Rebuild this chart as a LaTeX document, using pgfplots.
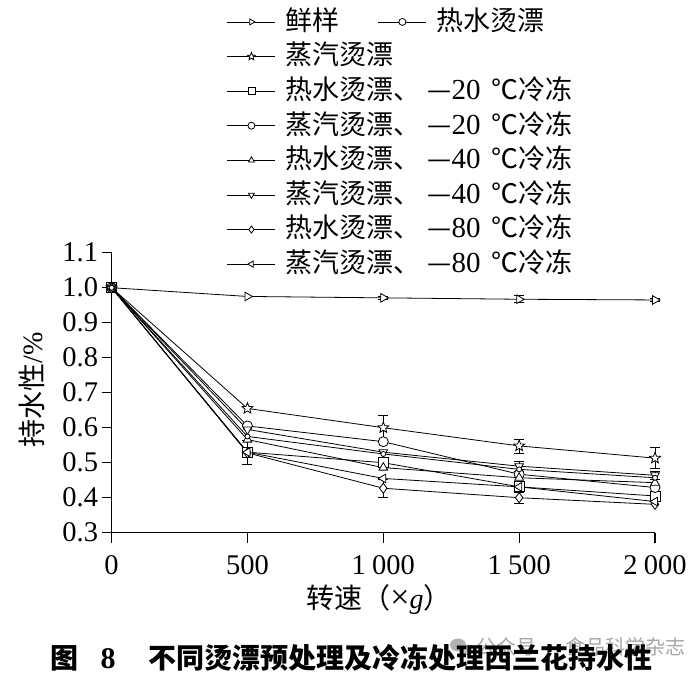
\documentclass[border=0pt]{standalone}
\usepackage{fontspec}
\setmainfont{Liberation Serif}
\newfontfamily\cjk{Noto Sans CJK SC}
\usepackage{pgfplots}
\pgfplotsset{compat=1.18}
\usetikzlibrary{plotmarks}

\pgfdeclareplotmark{ostar}{%
 \pgfpathmoveto{\pgfpointpolar{90}{1.15\pgfplotmarksize}}%
 \pgfpathlineto{\pgfpointpolar{126}{0.5\pgfplotmarksize}}%
 \pgfpathlineto{\pgfpointpolar{162}{1.15\pgfplotmarksize}}%
 \pgfpathlineto{\pgfpointpolar{198}{0.5\pgfplotmarksize}}%
 \pgfpathlineto{\pgfpointpolar{234}{1.15\pgfplotmarksize}}%
 \pgfpathlineto{\pgfpointpolar{270}{0.5\pgfplotmarksize}}%
 \pgfpathlineto{\pgfpointpolar{306}{1.15\pgfplotmarksize}}%
 \pgfpathlineto{\pgfpointpolar{342}{0.5\pgfplotmarksize}}%
 \pgfpathlineto{\pgfpointpolar{18}{1.15\pgfplotmarksize}}%
 \pgfpathlineto{\pgfpointpolar{54}{0.5\pgfplotmarksize}}%
 \pgfpathclose
 \pgfusepathqfillstroke}

\newcommand{\leg}[2]{{\cjk #1、}\hspace{0.25em}{\cjk —}{\fontsize{29}{29}\selectfont #2}\hspace{0.4em}{\cjk ℃冷冻}}

\pgfplotsset{
 base/.style={
  at={(111.6pt,141.3pt)}, anchor=south west,
  scale only axis, width=543.4pt, height=280pt,
  xmin=0, xmax=2000, ymin=0.3, ymax=1.1, clip=false,
 },
 leg/.style={
  legend style={anchor=north west, draw=none, fill=none, inner sep=0pt, outer sep=0pt,
   row sep=0pt, column sep=10pt, cells={anchor=west},
   font=\fontsize{27}{29}\selectfont,
   nodes={inner sep=0pt, text height=25.7pt, text depth=8.9pt}},
  legend image code/.code={\draw[mark repeat=2, mark phase=2, mark size=3.5pt]
     plot coordinates {(0pt,0pt) (24pt,0pt) (48pt,0pt)};},
 },
 ln/.style={black, line width=0.8pt, mark size=5pt},
 eb/.style={forget plot, black, only marks, mark=none, line width=0.8pt,
   error bars/.cd, y dir=both, y explicit,
   error bar style={line width=0.8pt, black},
   error mark options={rotate=90, mark size=5pt, line width=0.8pt, black}},
}

\begin{document}
\begin{tikzpicture}
\path[use as bounding box] (0,0) rectangle (700pt,674pt);

\begin{axis}[base, leg,
  legend style={at={(0.2124,1.886)}},
  axis lines=left, axis line style={-, line width=1.2pt},
  tick align=outside, major tick length=10pt,
  tick style={line width=1.2pt, black},
  xtick={0,500,1000,1500,2000},
  xticklabels={0,500,1\hspace{0.22em}000,1\hspace{0.22em}500,2\hspace{0.22em}000},
  ytick={0.3,0.4,0.5,0.6,0.7,0.8,0.9,1.0,1.1},
  yticklabel style={/pgf/number format/.cd, fixed, fixed zerofill, precision=1},
  /pgf/number format/assume math mode=true,
  ticklabel style={font=\fontsize{28.5}{28.5}\selectfont},
  xticklabel style={yshift=-9pt},
  xlabel={{\cjk 转速（}{\fontsize{34}{34}\selectfont ×}\textit{g}{\cjk ）}},
  ylabel={{\cjk 持水性}/\%},
  label style={font=\fontsize{28}{30}\selectfont},
  xlabel style={at={(axis description cs:0.492,-0.24)}, anchor=center},
  ylabel style={at={(axis description cs:-0.146,0.51)}, anchor=center, rotate=0},
]
% error bars (drawn first, behind marks)
\addplot[eb] coordinates {(1000,0.971) +- (0,0.004) (1500,0.967) +- (0,0.010) (2000,0.965) +- (0,0.004)};
\addplot[eb] coordinates {(1000,0.600) +- (0,0.035) (1500,0.548) +- (0,0.020) (2000,0.513) +- (0,0.030)};
\addplot[eb] coordinates {(500,0.530) +- (0,0.035)};
\addplot[eb] coordinates {(1500,0.490) +- (0,0.015) (2000,0.464) +- (0,0.012)};
\addplot[eb] coordinates {(1000,0.427) +- (0,0.025) (1500,0.400) +- (0,0.015)};

% 鲜样
\addplot[ln, mark=triangle*, mark options={fill=white, rotate=-90}] coordinates
 {(0,1.000) (500,0.975) (1000,0.971) (1500,0.967) (2000,0.965)};
\addlegendentry{\cjk 鲜样}
% 蒸汽烫漂
\addplot[ln, mark=ostar, mark options={fill=white}] coordinates
 {(0,1.000) (500,0.655) (1000,0.600) (1500,0.548) (2000,0.513)};
\addlegendentry{\cjk 蒸汽烫漂}
% 热水烫漂、-20
\addplot[ln, mark=square*, mark options={fill=white}] coordinates
 {(0,1.000) (500,0.530) (1000,0.500) (1500,0.431) (2000,0.405)};
\addlegendentry{\leg{热水烫漂}{20}}
% 蒸汽烫漂、-20
\addplot[ln, mark=*, mark options={fill=white}] coordinates
 {(0,1.000) (500,0.605) (1000,0.560) (1500,0.467) (2000,0.429)};
\addlegendentry{\leg{蒸汽烫漂}{20}}
% 热水烫漂、-40
\addplot[ln, mark=triangle*, mark options={fill=white}] coordinates
 {(0,1.000) (500,0.566) (1000,0.486) (1500,0.457) (2000,0.443)};
\addlegendentry{\leg{热水烫漂}{40}}
% 蒸汽烫漂、-40
\addplot[ln, mark=triangle*, mark options={fill=white, rotate=180}] coordinates
 {(0,1.000) (500,0.595) (1000,0.530) (1500,0.490) (2000,0.464)};
\addlegendentry{\leg{蒸汽烫漂}{40}}
% 热水烫漂、-80
\addplot[ln, mark=diamond*, mark options={fill=white}] coordinates
 {(0,1.000) (500,0.528) (1000,0.427) (1500,0.400) (2000,0.381)};
\addlegendentry{\leg{热水烫漂}{80}}
% 蒸汽烫漂、-80
\addplot[ln, mark=triangle*, mark options={fill=white, rotate=90}] coordinates
 {(0,1.000) (500,0.530) (1000,0.455) (1500,0.431) (2000,0.389)};
\addlegendentry{\leg{蒸汽烫漂}{80}}
\end{axis}

\begin{axis}[base, leg, hide axis,
  legend style={at={(0.4902,1.886)}}]
% 热水烫漂
\addplot[ln, mark=*, mark size=2.5pt, mark options={fill=white}] coordinates
 {(0,1.000) (500,0.575) (1000,0.525) (1500,0.481) (2000,0.457)};
\addlegendentry{\cjk 热水烫漂}
\end{axis}

% watermark
\fill[black!30] (458pt,29pt) ellipse (8pt and 6.5pt);
\fill[black!22] (466pt,24pt) ellipse (6.5pt and 5.5pt);
\node[anchor=west, text=black!35, inner sep=0pt] at (476pt,27pt)
  {\fontsize{20}{20}\selectfont\cjk 公众号 · 食品科学杂志};
% caption
\node[anchor=west, inner sep=0pt] at (50pt,16pt)
  {\fontsize{28}{28}\selectfont\bfseries{\cjk 图}\hspace{0.8em}{\fontsize{30}{30}\selectfont 8}};
\node[anchor=west, inner sep=0pt] at (148pt,16pt)
  {\fontsize{28}{28}\selectfont\bfseries\cjk 不同烫漂预处理及冷冻处理西兰花持水性};
\end{tikzpicture}
\end{document}
